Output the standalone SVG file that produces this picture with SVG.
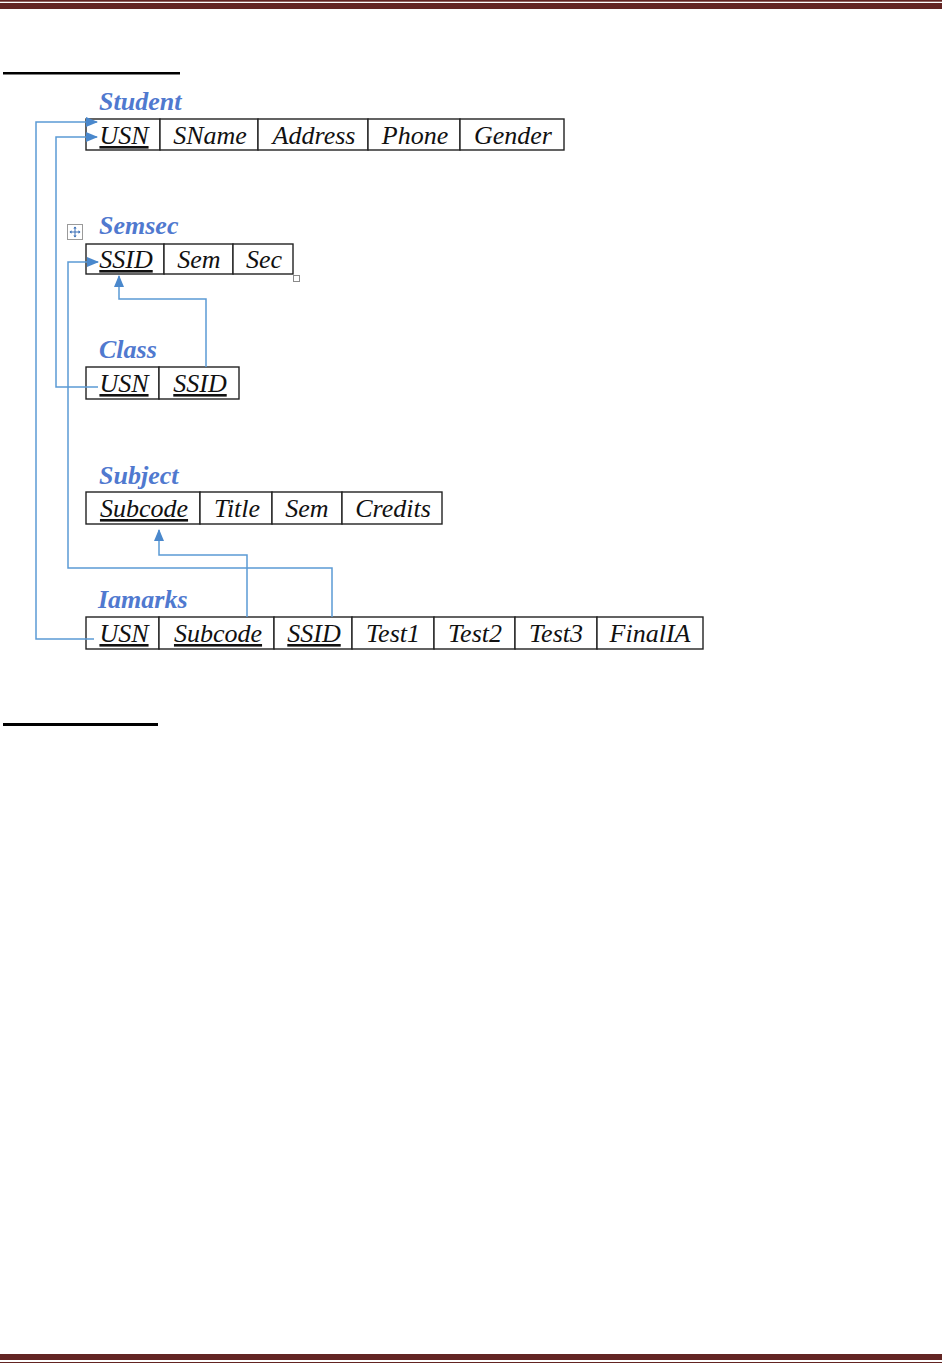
<svg xmlns="http://www.w3.org/2000/svg" width="942" height="1363" viewBox="0 0 942 1363">
<style>
.cell{fill:#fff;stroke:#222;stroke-width:1.4}
.t{font-family:"Liberation Serif",serif;font-style:italic;font-size:26px;fill:#111;text-anchor:middle}
.k{text-decoration:underline}
.title{font-family:"Liberation Serif",serif;font-style:italic;font-weight:bold;font-size:26px;fill:#5079cf}
.c{fill:none;stroke:#5b9bd5;stroke-width:1.5}
.bar{fill:#632523}
</style>
<defs>
<marker id="ah" markerWidth="12" markerHeight="10" refX="11" refY="5" orient="auto" markerUnits="userSpaceOnUse">
<path d="M0,0 L12,5 L0,10 Z" fill="#4a88cc"/>
</marker>
</defs>
<rect width="942" height="1363" fill="#fff"/>
<!-- page rules -->
<rect class="bar" x="0" y="0" width="942" height="1.7"/>
<rect class="bar" x="0" y="3" width="942" height="6"/>
<rect class="bar" x="0" y="1354" width="942" height="6"/>
<rect class="bar" x="0" y="1362" width="942" height="1"/>
<rect x="3" y="72" width="177" height="2.5" fill="#000"/>
<rect x="3" y="723" width="155" height="3" fill="#000"/>

<g id="student">
<text class="title" x="99" y="110">Student</text>
<rect class="cell" x="86" y="119" width="74" height="31"/>
<rect class="cell" x="160" y="119" width="98" height="31"/>
<rect class="cell" x="258" y="119" width="110" height="31"/>
<rect class="cell" x="368" y="119" width="92" height="31"/>
<rect class="cell" x="460" y="119" width="104" height="31"/>
<text class="t k" x="124" y="144">USN</text>
<text class="t" x="210" y="144">SName</text>
<text class="t" x="314" y="144">Address</text>
<text class="t" x="415" y="144">Phone</text>
<text class="t" x="513" y="144">Gender</text>
</g>

<g id="semsec">
<rect x="67.5" y="224.5" width="15" height="15" fill="#fff" stroke="#9a9a9a" stroke-width="1"/>
<path d="M75,227 V237 M70,232 H80" stroke="#3b6fb6" stroke-width="1"/>
<path d="M75,226.5 L73.3,228.5 H76.7 Z M75,237.5 L73.3,235.5 H76.7 Z M69.5,232 L71.5,230.3 V233.7 Z M80.5,232 L78.5,230.3 V233.7 Z" fill="#3b6fb6"/>
<text class="title" x="99" y="234">Semsec</text>
<rect class="cell" x="86" y="244" width="78" height="30"/>
<rect class="cell" x="164" y="244" width="69" height="30"/>
<rect class="cell" x="233" y="244" width="60" height="30"/>
<text class="t k" x="126" y="268">SSID</text>
<text class="t" x="199" y="268">Sem</text>
<text class="t" x="264" y="268">Sec</text>
<rect x="293.5" y="275.5" width="6" height="6" fill="#fff" stroke="#8a8a8a" stroke-width="1"/>
</g>

<g id="class">
<text class="title" x="99" y="358">Class</text>
<rect class="cell" x="86" y="367" width="73" height="32"/>
<rect class="cell" x="159" y="367" width="80" height="32"/>
<text class="t k" x="124" y="392">USN</text>
<text class="t k" x="200" y="392">SSID</text>
</g>

<g id="subject">
<text class="title" x="99" y="484">Subject</text>
<rect class="cell" x="86" y="492" width="114" height="32"/>
<rect class="cell" x="200" y="492" width="72" height="32"/>
<rect class="cell" x="272" y="492" width="70" height="32"/>
<rect class="cell" x="342" y="492" width="100" height="32"/>
<text class="t k" x="144" y="517">Subcode</text>
<text class="t" x="237" y="517">Title</text>
<text class="t" x="307" y="517">Sem</text>
<text class="t" x="393" y="517">Credits</text>
</g>

<g id="iamarks">
<text class="title" x="98" y="608">Iamarks</text>
<rect class="cell" x="86" y="617" width="73" height="32"/>
<rect class="cell" x="159" y="617" width="115" height="32"/>
<rect class="cell" x="274" y="617" width="78" height="32"/>
<rect class="cell" x="352" y="617" width="82" height="32"/>
<rect class="cell" x="434" y="617" width="81" height="32"/>
<rect class="cell" x="515" y="617" width="82" height="32"/>
<rect class="cell" x="597" y="617" width="106" height="32"/>
<text class="t k" x="124" y="642">USN</text>
<text class="t k" x="218" y="642">Subcode</text>
<text class="t k" x="314" y="642">SSID</text>
<text class="t" x="393" y="642">Test1</text>
<text class="t" x="475" y="642">Test2</text>
<text class="t" x="556" y="642">Test3</text>
<text class="t" x="650" y="642">FinalIA</text>
</g>

<g id="connectors">
<polyline class="c" points="94,639 36,639 36,122 97,122" marker-end="url(#ah)"/>
<polyline class="c" points="98,387 56,387 56,137 97,137" marker-end="url(#ah)"/>
<polyline class="c" points="332,617 332,568 68,568 68,262 98,262" marker-end="url(#ah)"/>
<polyline class="c" points="247,617 247,555 159,555 159,530" marker-end="url(#ah)"/>
<polyline class="c" points="206,367 206,299 119,299 119,276" marker-end="url(#ah)"/>
</g>
</svg>
